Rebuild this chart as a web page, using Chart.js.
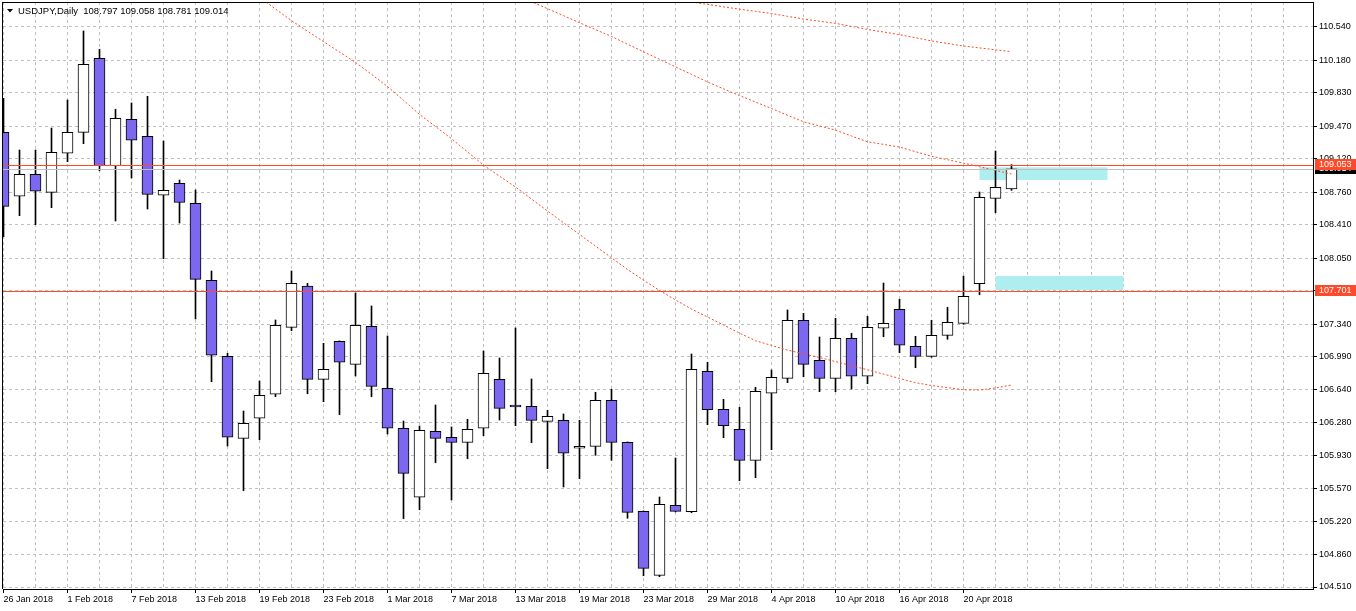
<!DOCTYPE html>
<html>
<head>
<meta charset="utf-8">
<script src="https://cdn.jsdelivr.net/npm/chart.js@4.4.1/dist/chart.umd.min.js"></script>
<style>
  html, body { margin: 0; padding: 0; background: #fff; }
  #wrap { width: 1356px; height: 611px; }
</style>
</head>
<body>
<div id="wrap"><canvas id="chart" width="1356" height="611"></canvas></div>
<script>
const symbol = 'USDJPY';
const timeframe = 'Daily';

const dates = [
  '26 Jan 2018', '29 Jan 2018', '30 Jan 2018', '31 Jan 2018', '1 Feb 2018', '2 Feb 2018', '5 Feb 2018', '6 Feb 2018',
  '7 Feb 2018', '8 Feb 2018', '9 Feb 2018', '12 Feb 2018', '13 Feb 2018', '14 Feb 2018', '15 Feb 2018', '16 Feb 2018',
  '19 Feb 2018', '20 Feb 2018', '21 Feb 2018', '22 Feb 2018', '23 Feb 2018', '26 Feb 2018', '27 Feb 2018', '28 Feb 2018',
  '1 Mar 2018', '2 Mar 2018', '5 Mar 2018', '6 Mar 2018', '7 Mar 2018', '8 Mar 2018', '9 Mar 2018', '12 Mar 2018',
  '13 Mar 2018', '14 Mar 2018', '15 Mar 2018', '16 Mar 2018', '19 Mar 2018', '20 Mar 2018', '21 Mar 2018', '22 Mar 2018',
  '23 Mar 2018', '26 Mar 2018', '27 Mar 2018', '28 Mar 2018', '29 Mar 2018', '30 Mar 2018', '2 Apr 2018', '3 Apr 2018',
  '4 Apr 2018', '5 Apr 2018', '6 Apr 2018', '9 Apr 2018', '10 Apr 2018', '11 Apr 2018', '12 Apr 2018', '13 Apr 2018',
  '16 Apr 2018', '17 Apr 2018', '18 Apr 2018', '19 Apr 2018', '20 Apr 2018', '23 Apr 2018', '24 Apr 2018', '25 Apr 2018'
];

const open = [
  109.406, 108.717, 108.954, 108.760, 109.180, 109.406, 110.203, 109.046,
  109.546, 109.363, 108.728, 108.857, 108.642, 107.812, 106.994, 106.111,
  106.327, 106.585, 107.306, 107.751, 106.746, 107.156, 106.908, 107.317,
  106.650, 106.219, 105.476, 106.187, 106.122, 106.068, 106.219, 106.746,
  106.455, 106.456, 106.294, 106.305, 106.004, 106.025, 106.520, 106.068,
  105.325, 104.636, 105.390, 105.321, 106.833, 106.423, 106.208, 105.874,
  106.596, 106.757, 107.382, 106.951, 106.757, 107.188, 106.779, 107.296,
  107.500, 107.102, 106.994, 107.220, 107.349, 107.776, 108.695, 108.797
];
const high = [
  109.772, 109.215, 109.215, 109.452, 109.754, 110.497, 110.300, 109.654,
  109.722, 109.794, 109.312, 108.892, 108.785, 107.913, 107.026, 106.405,
  106.728, 107.385, 107.913, 107.780, 107.134, 107.160, 107.676, 107.536,
  107.213, 106.297, 106.244, 106.470, 106.233, 106.316, 107.051, 106.976,
  107.299, 106.750, 106.413, 106.373, 106.305, 106.606, 106.639, 106.072,
  105.330, 105.479, 105.899, 107.019, 106.930, 106.531, 106.445, 106.660,
  106.847, 107.493, 107.457, 107.202, 107.403, 107.242, 107.425, 107.783,
  107.608, 107.209, 107.382, 107.522, 107.859, 108.763, 109.205, 109.058
];
const low = [
  108.282, 108.508, 108.411, 108.594, 109.090, 109.283, 108.993, 108.451,
  108.914, 108.580, 108.045, 108.429, 107.396, 106.721, 106.028, 105.547,
  106.096, 106.559, 107.270, 106.591, 106.505, 106.365, 106.782, 106.559,
  106.157, 105.245, 105.342, 105.848, 105.447, 105.891, 106.139, 106.308,
  106.247, 106.064, 105.784, 105.587, 105.676, 105.928, 105.874, 105.250,
  104.632, 104.621, 105.318, 105.310, 106.258, 106.118, 105.655, 105.687,
  105.988, 106.710, 106.774, 106.613, 106.613, 106.642, 106.699, 107.205,
  107.033, 106.871, 106.983, 107.177, 107.340, 107.657, 108.540, 108.781
];
const close = [
  108.609, 108.954, 108.771, 109.191, 109.406, 110.138, 109.046, 109.557,
  109.320, 108.738, 108.782, 108.652, 107.823, 107.005, 106.122, 106.273,
  106.574, 107.328, 107.780, 106.746, 106.854, 106.930, 107.328, 106.671,
  106.219, 105.734, 106.197, 106.111, 106.068, 106.208, 106.811, 106.434,
  106.448, 106.305, 106.348, 105.950, 106.025, 106.520, 106.068, 105.314,
  104.711, 105.400, 105.325, 106.854, 106.419, 106.247, 105.874, 106.617,
  106.768, 107.382, 106.908, 106.757, 107.188, 106.779, 107.306, 107.349,
  107.113, 106.994, 107.220, 107.360, 107.640, 108.706, 108.814, 109.014
];

// moving averages (first bar index + values)
const maFastStart = 15;
const maFast = [
  110.986, 110.860, 110.734, 110.608, 110.495, 110.383, 110.271, 110.159, 110.030, 109.899,
  109.750, 109.599, 109.468, 109.337, 109.195, 109.052, 108.934, 108.817, 108.688, 108.559,
  108.432, 108.306, 108.181, 108.055, 107.929, 107.814, 107.704, 107.601, 107.503, 107.417,
  107.331, 107.244, 107.162, 107.111, 107.061, 107.021, 106.981, 106.937, 106.893, 106.849,
  106.802, 106.756, 106.710, 106.680, 106.657, 106.634, 106.631, 106.653, 106.685
];
const maMidStart = 32;
const maMid = [
  110.889, 110.813, 110.737, 110.662, 110.586, 110.512, 110.438, 110.355, 110.273, 110.192,
  110.111, 110.030, 109.948, 109.874, 109.802, 109.732, 109.662, 109.590, 109.519, 109.475,
  109.430, 109.366, 109.304, 109.276, 109.247, 109.197, 109.148, 109.111, 109.074, 109.036,
  108.996, 108.957
];
const maSlowStart = 42;
const maSlow = [
  110.835, 110.809, 110.783, 110.757, 110.732, 110.709, 110.685, 110.655, 110.626, 110.602,
  110.579, 110.546, 110.514, 110.486, 110.458, 110.424, 110.390, 110.362, 110.335, 110.315,
  110.294, 110.274
];

const yTicks = [
  104.51, 104.86, 105.22, 105.57, 105.93, 106.28, 106.64, 106.99, 107.34,
  107.70, 108.05, 108.41, 108.76, 109.12, 109.47, 109.83, 110.18, 110.54
];

const levels = [109.053, 107.701];

const zoneFrom = [61, 62];
const zoneTo = [69, 70];
const zoneHigh = [109.029, 107.859];
const zoneLow = [108.892, 107.708];

const FONT = { family: '"Liberation Sans", Arial, sans-serif', size: 9 };
const RED = '#FF4A2A';

function maPoints(start, values) {
  return values.map((v, k) => ({ x: start + k, y: v }));
}

const overlay = {
  id: 'overlay',
  beforeDatasetsDraw(chart) {
    const { ctx, chartArea: a, scales: { x, y } } = chart;
    ctx.save();
    ctx.beginPath();
    ctx.rect(a.left, a.top, a.right - a.left, a.bottom - a.top);
    ctx.clip();
    ctx.fillStyle = '#AFEEEE';
    zoneFrom.forEach((f, k) => {
      const x1 = x.getPixelForValue(f);
      const x2 = x.getPixelForValue(zoneTo[k]);
      const y1 = y.getPixelForValue(zoneHigh[k]);
      const y2 = y.getPixelForValue(zoneLow[k]);
      ctx.fillRect(x1, y1, x2 - x1, y2 - y1);
    });
    ctx.restore();
  },
  afterDraw(chart) {
    const { ctx, chartArea: a, scales: { y } } = chart;
    ctx.save();
    ctx.globalAlpha = 1;
    ctx.globalCompositeOperation = 'source-over';
    ctx.setLineDash([]);

    // bid line and horizontal levels
    const bid = close[close.length - 1];
    ctx.fillStyle = '#C0C0C0';
    ctx.fillRect(a.left, Math.round(y.getPixelForValue(bid)), a.right - a.left, 1);
    ctx.fillStyle = RED;
    levels.forEach(v => {
      ctx.fillRect(a.left, Math.round(y.getPixelForValue(v)), a.right - a.left, 1);
    });

    // frame
    ctx.fillStyle = '#000';
    ctx.fillRect(a.left - 1, a.top, 1, a.bottom - a.top);
    ctx.fillRect(a.left - 1, a.top, a.right - a.left + 2, 1);

    // price labels on the axis
    ctx.font = FONT.size + 'px ' + FONT.family;
    ctx.textBaseline = 'middle';
    ctx.textAlign = 'left';
    const boxX = a.right + 2;
    const tags = [{ v: bid, bg: '#000000' }].concat(levels.map(v => ({ v, bg: RED })));
    tags.forEach(t => {
      const py = Math.round(y.getPixelForValue(t.v));
      ctx.fillStyle = t.bg;
      ctx.fillRect(boxX, py - 6, chart.width - boxX, 11);
      ctx.fillStyle = '#FFFFFF';
      ctx.fillText(t.v.toFixed(3), a.right + 6, py);
    });

    // title
    ctx.fillStyle = '#000';
    ctx.beginPath();
    ctx.moveTo(7, 9); ctx.lineTo(13, 9); ctx.lineTo(10, 12.5); ctx.closePath();
    ctx.fill();
    const n = close.length - 1;
    const title = symbol + ',' + timeframe + '  ' +
      [open[n], high[n], low[n], close[n]].map(v => v.toFixed(3)).join(' ');
    ctx.font = '9.5px ' + FONT.family;
    ctx.fillText(title, 18, 11);
    ctx.restore();
  }
};

const ctx = document.getElementById('chart').getContext('2d');
new Chart(ctx, {
  type: 'bar',
  data: {
    datasets: [
      {
        type: 'line',
        data: maPoints(maFastStart, maFast),
        borderColor: RED, borderWidth: 1, borderDash: [2, 2],
        pointRadius: 0, tension: 0, order: 1, clip: 0
      },
      {
        type: 'line',
        data: maPoints(maMidStart, maMid),
        borderColor: RED, borderWidth: 1, borderDash: [2, 2],
        pointRadius: 0, tension: 0, order: 1, clip: 0
      },
      {
        type: 'line',
        data: maPoints(maSlowStart, maSlow),
        borderColor: RED, borderWidth: 1, borderDash: [2, 2],
        pointRadius: 0, tension: 0, order: 1, clip: 0
      },
      {
        // candle bodies
        data: dates.map((_, i) => ({ x: i, y: [open[i], close[i]] })),
        backgroundColor: dates.map((_, i) => close[i] >= open[i] ? '#FFFFFF' : '#7B68EE'),
        borderColor: '#000000',
        borderWidth: 1,
        borderSkipped: false,
        barThickness: 11,
        minBarLength: 2,
        grouped: false,
        order: 2,
        clip: 0
      },
      {
        // wicks
        data: dates.map((_, i) => ({ x: i, y: [low[i], high[i]] })),
        backgroundColor: '#000000',
        borderWidth: 0,
        barThickness: 1,
        grouped: false,
        order: 3,
        clip: 0
      }
    ]
  },
  options: {
    responsive: false,
    animation: false,
    devicePixelRatio: 1,
    events: [],
    layout: { padding: { left: 3, top: 2, right: 0, bottom: 0 } },
    plugins: { legend: { display: false }, tooltip: { enabled: false } },
    scales: {
      x: {
        type: 'linear',
        min: -0.03125,
        max: 81.84375,
        bounds: 'data',
        offset: false,
        afterBuildTicks: (scale) => {
          const t = [];
          for (let i = 0; i <= 80; i += 2) t.push({ value: i });
          scale.ticks = t;
        },
        afterFit: (scale) => {
          scale.height = 22;
          scale.paddingLeft = 0; scale.paddingRight = 0;
          scale.paddingTop = 0; scale.paddingBottom = 0;
        },
        ticks: {
          autoSkip: false,
          maxRotation: 0,
          minRotation: 0,
          align: 'start',
          padding: 1,
          color: '#000',
          font: FONT,
          callback: (v) => (v % 4 === 0 && dates[v]) ? dates[v] : ''
        },
        grid: {
          offset: false,
          color: '#C0C0C0',
          lineWidth: 1,
          tickLength: 4,
          tickColor: (c) => (c.tick && c.tick.value % 4 === 0 && dates[c.tick.value]) ? '#000' : 'rgba(0,0,0,0)'
        },
        border: { display: true, color: '#000', width: 1, dash: [3, 3] }
      },
      y: {
        type: 'linear',
        position: 'right',
        min: 104.4885,
        max: 110.809,
        bounds: 'data',
        afterBuildTicks: (scale) => {
          scale.ticks = yTicks.map(v => ({ value: v }));
        },
        afterFit: (scale) => {
          scale.width = 43;
          scale.paddingLeft = 0; scale.paddingRight = 0;
          scale.paddingTop = 0; scale.paddingBottom = 0;
        },
        ticks: {
          autoSkip: false,
          padding: 2,
          color: '#000',
          font: FONT,
          callback: (v) => Number(v).toFixed(3)
        },
        grid: {
          color: '#C0C0C0',
          lineWidth: 1,
          tickLength: 4,
          tickColor: '#000'
        },
        border: { display: true, color: '#000', width: 1, dash: [3, 3] }
      }
    }
  },
  plugins: [overlay]
});
</script>
</body>
</html>
